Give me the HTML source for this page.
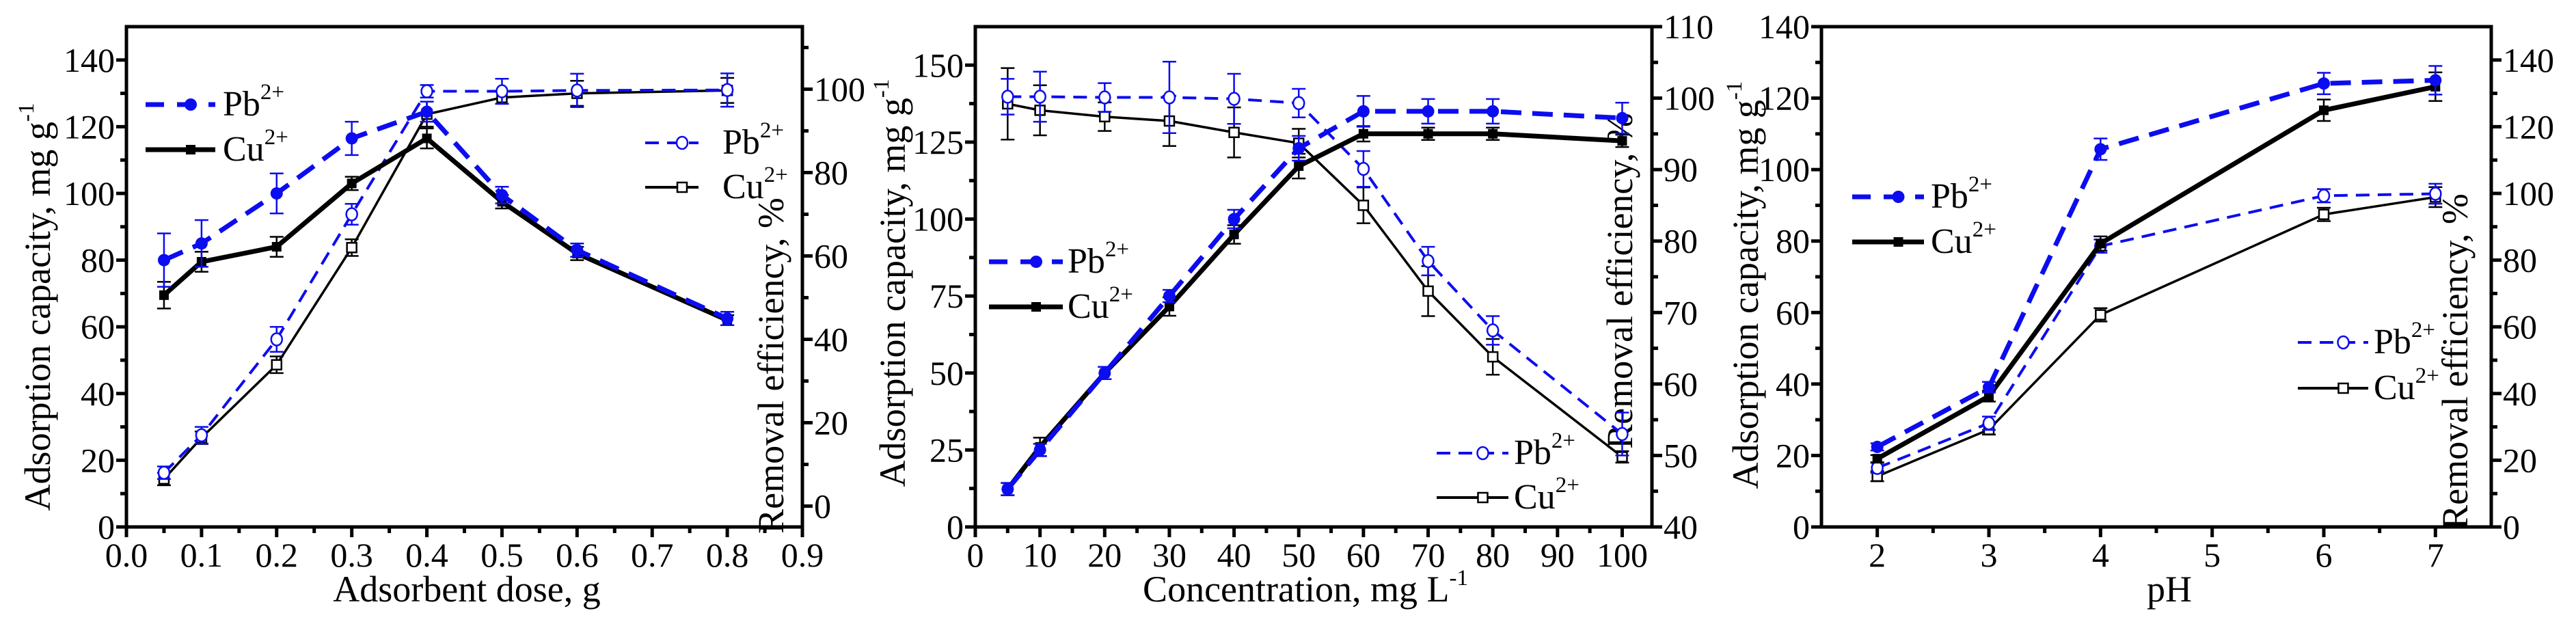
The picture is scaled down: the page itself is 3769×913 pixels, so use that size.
<!DOCTYPE html>
<html><head><meta charset="utf-8"><style>
html,body{margin:0;padding:0;background:#fff;}
svg{display:block;}
text,tspan{font-family:"Liberation Serif","DejaVu Serif",serif;}
</style></head><body>
<svg id="chart" width="3769" height="913" viewBox="0 0 3769 913" xmlns="http://www.w3.org/2000/svg" font-family="Liberation Serif, serif">
</svg>
<script>
// ---------- Panel 1: adsorbent dose ----------
const p1X = [0.05, 0.1, 0.2, 0.3, 0.4, 0.5, 0.6, 0.8];
const p1PbCap = [80, 85, 100, 116.5, 124.5, 99.5, 83, 62.5];
const p1PbCapErr = [8, 7, 6, 5, 3, 2.5, 2, 2];
const p1CuCap = [69.5, 79.5, 84, 103, 116.5, 97.5, 82, 62];
const p1CuCapErr = [4, 3, 3, 2, 3, 2, 2, 1.5];
const p1PbEff = [8, 17, 40, 70, 99.5, 99.5, 99.7, 99.8];
const p1PbEffErr = [1.5, 2, 3, 2.5, 1.5, 3, 4, 4];
const p1CuEff = [6.5, 16.4, 33.9, 62, 94, 98, 99, 99.7];
const p1CuEffErr = [1.5, 1.5, 2, 2, 3, 1.5, 3, 3];
const p1XTicks = [0, 0.1, 0.2, 0.3, 0.4, 0.5, 0.6, 0.7, 0.8, 0.9];
const p1XLabels = ["0.0","0.1","0.2","0.3","0.4","0.5","0.6","0.7","0.8","0.9"];
const p1LTicks = [0, 20, 40, 60, 80, 100, 120, 140];
const p1RTicks = [0, 20, 40, 60, 80, 100];
// ---------- Panel 2: concentration ----------
const p2X = [5, 10, 20, 30, 40, 50, 60, 70, 80, 100];
const p2PbCap = [12.3, 25, 50, 75, 100, 123, 135, 135, 135, 132.8];
const p2PbCapErr = [2, 2, 2, 2, 3, 4, 5, 4, 4, 5];
const p2CuCap = [12.3, 26, 50, 71.6, 95, 117.2, 127.7, 127.7, 127.7, 125.4];
const p2CuCapErr = [2, 3, 2, 3, 3, 4, 2.5, 2, 2, 2];
const p2PbEff = [100.2, 100.2, 100.1, 100.1, 99.9, 99.3, 90.1, 77.2, 67.5, 53];
const p2PbEffErr = [2.5, 3.5, 2, 5, 3.5, 2, 2.5, 2, 2, 3];
const p2CuEff = [99.2, 98.3, 97.4, 96.8, 95.2, 93.7, 85, 73, 63.8, 49.8];
const p2CuEffErr = [5, 3.5, 2, 3.5, 3.5, 2, 2.5, 3.5, 2.5, 0.8];
const p2XTicks = [0, 10, 20, 30, 40, 50, 60, 70, 80, 90, 100];
const p2XLabels = ["0","10","20","30","40","50","60","70","80","90","100"];
const p2LTicks = [0, 25, 50, 75, 100, 125, 150];
const p2RTicks = [40, 50, 60, 70, 80, 90, 100, 110];
// ---------- Panel 3: pH ----------
const p3X = [2, 3, 4, 6, 7];
const p3PbCap = [22.4, 39.1, 105.7, 124.1, 125];
const p3PbCapErr = [1, 1.5, 3, 3, 4];
const p3CuCap = [19.1, 36.6, 79.3, 116.6, 123.2];
const p3CuCapErr = [1, 1.5, 2, 3, 4];
const p3PbEff = [17.7, 31.1, 84.2, 99.3, 99.9];
const p3PbEffErr = [1.5, 2, 2, 2, 3];
const p3CuEff = [15.2, 29.2, 63.6, 93.7, 98.9];
const p3CuEffErr = [1.5, 1.5, 2, 2, 3];
const p3XTicks = [2, 3, 4, 5, 6, 7];
const p3XLabels = ["2","3","4","5","6","7"];
const p3LTicks = [0, 20, 40, 60, 80, 100, 120, 140];
const p3RTicks = [0, 20, 40, 60, 80, 100, 120, 140];

const NS = "http://www.w3.org/2000/svg";
const svg = document.getElementById("chart");
const BLUE = "#0c0cf0";
const FONT = "Liberation Serif";
function mk(tag, attrs, parent) {
  const e = document.createElementNS(NS, tag);
  for (const k in attrs) e.setAttribute(k, attrs[k]);
  if (tag === "text") e.setAttribute("font-family", FONT);
  (parent || svg).appendChild(e);
  return e;
}
function ion(parent, x, y, base) {
  const t = mk("text", {x: x, y: y, "font-size": 52, fill: "#000"}, parent);
  
  
  t.appendChild(document.createTextNode(base));
  const s = mk("tspan", {dy: -24, "font-size": 33}, t);
  s.textContent = "2+";
  return t;
}

function panel(c) {
  const g = mk("g", {});
  
  
  const sx = v => c.x0 + (v - c.xmin) / (c.xmax - c.xmin) * (c.x1 - c.x0);
  const sl = v => c.y1 - (v - c.lmin) / (c.lmax - c.lmin) * (c.y1 - c.y0);
  const sr = v => c.y1 - (v - c.rmin) / (c.rmax - c.rmin) * (c.y1 - c.y0);
  const fr = mk("rect", {x: c.x0, y: c.y0, width: c.x1 - c.x0, height: c.y1 - c.y0, fill: "none", stroke: "#000", "stroke-width": 5}, g);
  
  
  c.xTicks.forEach((v, i) => {
    const x = sx(v);
    const t = mk("line", {x1: x, x2: x, y1: c.y1, y2: c.y1 + 15, stroke: "#000", "stroke-width": 5}, g);
    
    
    const lb = mk("text", {x: x, y: c.y1 + 58, "font-size": 50, "text-anchor": "middle"}, g);
    
    
    lb.textContent = c.xLabels[i];
    if (i < c.xTicks.length - 1) {
      const xm = sx((v + c.xTicks[i + 1]) / 2);
      const m = mk("line", {x1: xm, x2: xm, y1: c.y1, y2: c.y1 + 9, stroke: "#000", "stroke-width": 5}, g);
      
      
    }
  });
  c.lTicks.forEach((v, i) => {
    const y = sl(v);
    const t = mk("line", {x1: c.x0 - 15, x2: c.x0, y1: y, y2: y, stroke: "#000", "stroke-width": 5}, g);
    
    
    const lb = mk("text", {x: c.x0 - 17, y: y + 17, "font-size": 50, "text-anchor": "end"}, g);
    
    
    lb.textContent = String(v);
    const step = i < c.lTicks.length - 1 ? c.lTicks[i + 1] - v : v - c.lTicks[i - 1];
    const mv = v + step / 2;
    if (mv < c.lmax) {
      const m = mk("line", {x1: c.x0 - 9, x2: c.x0, y1: sl(mv), y2: sl(mv), stroke: "#000", "stroke-width": 5}, g);
      
      
    }
  });
  c.rTicks.forEach((v, i) => {
    const y = sr(v);
    const t = mk("line", {x1: c.x1, x2: c.x1 + 15, y1: y, y2: y, stroke: "#000", "stroke-width": 5}, g);
    
    
    const lb = mk("text", {x: c.x1 + 17, y: y + 17, "font-size": 50, "text-anchor": "start"}, g);
    
    
    lb.textContent = String(v);
    const step = i < c.rTicks.length - 1 ? c.rTicks[i + 1] - v : v - c.rTicks[i - 1];
    const mv = v + step / 2;
    if (mv < c.rmax) {
      const m = mk("line", {x1: c.x1, x2: c.x1 + 9, y1: sr(mv), y2: sr(mv), stroke: "#000", "stroke-width": 5}, g);
      
      
    }
  });
  const xt = mk("text", {x: c.xtX, y: 880, "font-size": 54, "text-anchor": "middle"}, g);
  
  
  xt.textContent = c.xTitle;
  if (c.xSup) { const s = mk("tspan", {dy: -24, "font-size": 33}, xt); s.textContent = c.xSup; }
  const lt = mk("text", {x: 0, y: 0, "font-size": 54, "text-anchor": "middle", transform: `translate(${c.ltX},${c.ltY}) rotate(-90)`}, g);
  
  
  lt.textContent = "Adsorption capacity, mg g";
  const ls = mk("tspan", {dy: -24, "font-size": 33}, lt); ls.textContent = "-1";
  const rt = mk("text", {x: 0, y: 0, "font-size": 54, "text-anchor": "middle", transform: `translate(${c.rtX},${c.rtY}) rotate(-90)`}, g);
  
  
  rt.textContent = "Removal efficiency, %";

  function series(xs, ys, errs, scale, color, width, dash, marker, name) {
    const sg = mk("g", {}, g);
    
    
    const pts = xs.map((x, i) => sx(x) + "," + scale(ys[i])).join(" ");
    const pl = mk("polyline", {points: pts, fill: "none", stroke: color, "stroke-width": width, "stroke-dasharray": dash, "stroke-linejoin": "round"}, sg);
    
    
    xs.forEach((x, i) => {
      const px = sx(x), py = scale(ys[i]);
      const hi = scale(ys[i] + errs[i]), lo = scale(ys[i] - errs[i]);
      const eb = mk("path", {d: `M${px},${hi}V${lo}M${px - 10},${hi}H${px + 10}M${px - 10},${lo}H${px + 10}`, stroke: color, "stroke-width": 2.5, fill: "none"}, sg);
      
      
      let m;
      if (marker === "fc") m = mk("circle", {cx: px, cy: py, r: 9, fill: color}, sg);
      else if (marker === "fs") m = mk("rect", {x: px - 7, y: py - 7, width: 14, height: 14, fill: color}, sg);
      else if (marker === "oc") m = mk("ellipse", {cx: px, cy: py, rx: 8, ry: 9, fill: "#fff", stroke: color, "stroke-width": 2.5}, sg);
      else m = mk("rect", {x: px - 7, y: py - 7, width: 14, height: 14, fill: "#fff", stroke: color, "stroke-width": 2.5}, sg);
      
      
    });
  }
  series(c.px, c.cuEff, c.cuEffE, sr, "#000", 3.5, "none", "os", "cu-removal-series");
  series(c.px, c.pbEff, c.pbEffE, sr, BLUE, 4, "20 12", "oc", "pb-removal-series");
  series(c.px, c.cuCap, c.cuCapE, sl, "#000", 7, "none", "fs", "cu-capacity-series");
  series(c.px, c.pbCap, c.pbCapE, sl, BLUE, 7, "30 16", "fc", "pb-capacity-series");

  function legend(lx0, lx1, y1, y2, tx, filled, name) {
    const lg = mk("g", {}, g);
    
    
    const mx = (lx0 + lx1) / 2 + 15;
    mk("line", {x1: lx0, x2: lx1, y1: y1, y2: y1, stroke: BLUE, "stroke-width": filled ? 7 : 4, "stroke-dasharray": filled ? "27 19" : "20 12"}, lg);
    if (filled) mk("circle", {cx: mx, cy: y1, r: 9, fill: BLUE}, lg);
    else mk("ellipse", {cx: mx, cy: y1, rx: 8, ry: 9, fill: "#fff", stroke: BLUE, "stroke-width": 2.5}, lg);
    mk("line", {x1: lx0, x2: lx1, y1: y2, y2: y2, stroke: "#000", "stroke-width": filled ? 7 : 4}, lg);
    if (filled) mk("rect", {x: mx - 7, y: y2 - 7, width: 14, height: 14, fill: "#000"}, lg);
    else mk("rect", {x: mx - 7, y: y2 - 7, width: 14, height: 14, fill: "#fff", stroke: "#000", "stroke-width": 2.5}, lg);
    ion(lg, tx, y1 + 16, "Pb");
    ion(lg, tx, y2 + 16, "Cu");
  }
  legend(c.lf[0], c.lf[1], c.lf[2], c.lf[3], c.lf[4], true, "legend-capacity");
  legend(c.lo[0], c.lo[1], c.lo[2], c.lo[3], c.lo[4], false, "legend-removal");
}

panel({name: "panel-adsorbent-dose", x0: 185, x1: 1174, y0: 39, y1: 771,
  xmin: 0, xmax: 0.9, lmin: 0, lmax: 150, rmin: -5, rmax: 115,
  xTicks: p1XTicks, xLabels: p1XLabels, lTicks: p1LTicks, rTicks: p1RTicks,
  xTitle: "Adsorbent dose, g", xtX: 683, ltX: 73, ltY: 449, rtX: 1146, rtY: 535,
  px: p1X, pbCap: p1PbCap, pbCapE: p1PbCapErr, cuCap: p1CuCap, cuCapE: p1CuCapErr,
  pbEff: p1PbEff, pbEffE: p1PbEffErr, cuEff: p1CuEff, cuEffE: p1CuEffErr,
  lf: [213, 315, 153, 219, 326], lo: [944, 1022, 209, 274, 1057]});
panel({name: "panel-concentration", x0: 1427, x1: 2417, y0: 39, y1: 771,
  xmin: 0, xmax: 104.6, lmin: 0, lmax: 162.5, rmin: 40, rmax: 110,
  xTicks: p2XTicks, xLabels: p2XLabels, lTicks: p2LTicks, rTicks: p2RTicks,
  xTitle: "Concentration, mg L", xSup: "-1", xtX: 1910, ltX: 1324, ltY: 414, rtX: 2388, rtY: 411,
  px: p2X, pbCap: p2PbCap, pbCapE: p2PbCapErr, cuCap: p2CuCap, cuCapE: p2CuCapErr,
  pbEff: p2PbEff, pbEffE: p2PbEffErr, cuEff: p2CuEff, cuEffE: p2CuEffErr,
  lf: [1447, 1555, 383, 449, 1562], lo: [2102, 2207, 663, 728, 2215]});
panel({name: "panel-ph", x0: 2665, x1: 3645, y0: 39, y1: 771,
  xmin: 1.5, xmax: 7.5, lmin: 0, lmax: 140, rmin: 0, rmax: 150,
  xTicks: p3XTicks, xLabels: p3XLabels, lTicks: p3LTicks, rTicks: p3RTicks,
  xTitle: "pH", xtX: 3174, ltX: 2572, ltY: 417, rtX: 3610, rtY: 529,
  px: p3X, pbCap: p3PbCap, pbCapE: p3PbCapErr, cuCap: p3CuCap, cuCapE: p3CuCapErr,
  pbEff: p3PbEff, pbEffE: p3PbEffErr, cuEff: p3CuEff, cuEffE: p3CuEffErr,
  lf: [2710, 2815, 288, 354, 2825], lo: [3362, 3465, 501, 568, 3473]});
</script>
</body></html>
